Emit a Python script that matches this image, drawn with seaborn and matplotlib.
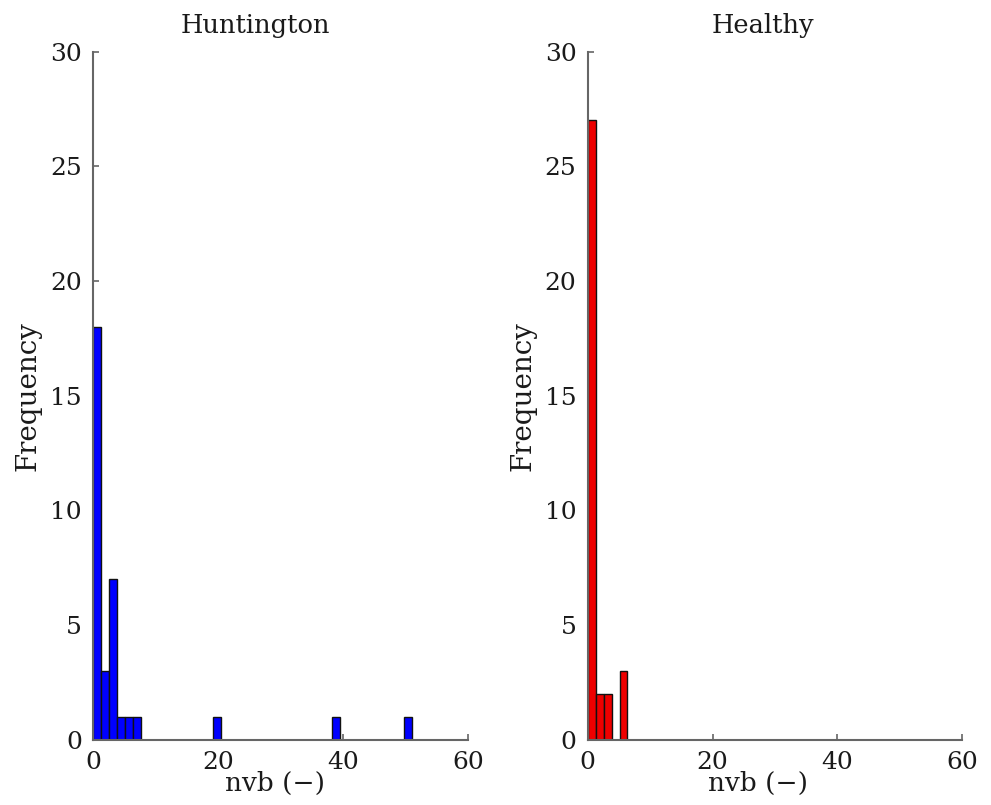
import numpy as np
import pandas as pd
import seaborn as sns
import matplotlib.pyplot as plt

# histogram counts (40 bins of equal width from 0 to 51)
n_bins = 40
x_max = 51.0
huntington_counts = [18, 3, 7, 1, 1, 1, 0, 0, 0, 0,
                     0, 0, 0, 0, 0, 1, 0, 0, 0, 0,
                     0, 0, 0, 0, 0, 0, 0, 0, 0, 0,
                     1, 0, 0, 0, 0, 0, 0, 0, 0, 1]
healthy_counts = [27, 2, 2, 0, 3, 0, 0, 0, 0, 0,
                  0, 0, 0, 0, 0, 0, 0, 0, 0, 0,
                  0, 0, 0, 0, 0, 0, 0, 0, 0, 0,
                  0, 0, 0, 0, 0, 0, 0, 0, 0, 0]
titles = ['Huntington', 'Healthy']
colors = ['#0000ff', '#ee0000']
x_ticks = [0, 20, 40, 60]
y_ticks = [0, 5, 10, 15, 20, 25, 30]

sns.set_style('white')
plt.rcParams['font.family'] = ['DejaVu Serif']
plt.rcParams['text.color'] = '#1a1a1a'
plt.rcParams['axes.labelcolor'] = '#1a1a1a'
plt.rcParams['xtick.color'] = '#1a1a1a'
plt.rcParams['ytick.color'] = '#1a1a1a'
plt.rcParams['xtick.direction'] = 'in'
plt.rcParams['ytick.direction'] = 'in'

width = x_max / n_bins
centers = (np.arange(n_bins) + 0.5) * width

fig = plt.figure(figsize=(9.91, 8.05), dpi=100)
axes = [fig.add_axes([0.094, 0.081, 0.378, 0.855]),
        fig.add_axes([0.593, 0.081, 0.378, 0.855])]
# the original centres its titles / x labels a little left of the axes middle
title_x = [0.432, 0.468]
xlabel_x = [0.485, 0.455]

for i, ax in enumerate(axes):
    counts = [huntington_counts, healthy_counts][i]
    df = pd.DataFrame({'nvb': centers, 'count': counts})
    sns.histplot(data=df, x='nvb', weights='count', binwidth=width,
                 binrange=(0, x_max), ax=ax, color=colors[i],
                 alpha=1, edgecolor='#111111', linewidth=1.0)
    ax.set_xlim(0, 60)
    ax.set_ylim(0, 30)
    ax.set_xticks(x_ticks)
    ax.set_yticks(y_ticks)
    ax.set_title(titles[i], fontsize=18.5, x=title_x[i], pad=13)
    ax.set_xlabel('nvb (\u2212)', fontsize=19, labelpad=-2)
    ax.xaxis.set_label_coords(xlabel_x[i], -0.045)
    ax.set_ylabel('Frequency', fontsize=20, labelpad=6)
    ax.tick_params(direction='in', length=4, width=1.2, color='#666666',
                   labelsize=18, pad=8, bottom=True, left=True)
    for side in ['top', 'right']:
        ax.spines[side].set_visible(False)
    for side in ['left', 'bottom']:
        ax.spines[side].set_color('#666666')
        ax.spines[side].set_linewidth(1.5)

fig.savefig('out.png', dpi=100)
